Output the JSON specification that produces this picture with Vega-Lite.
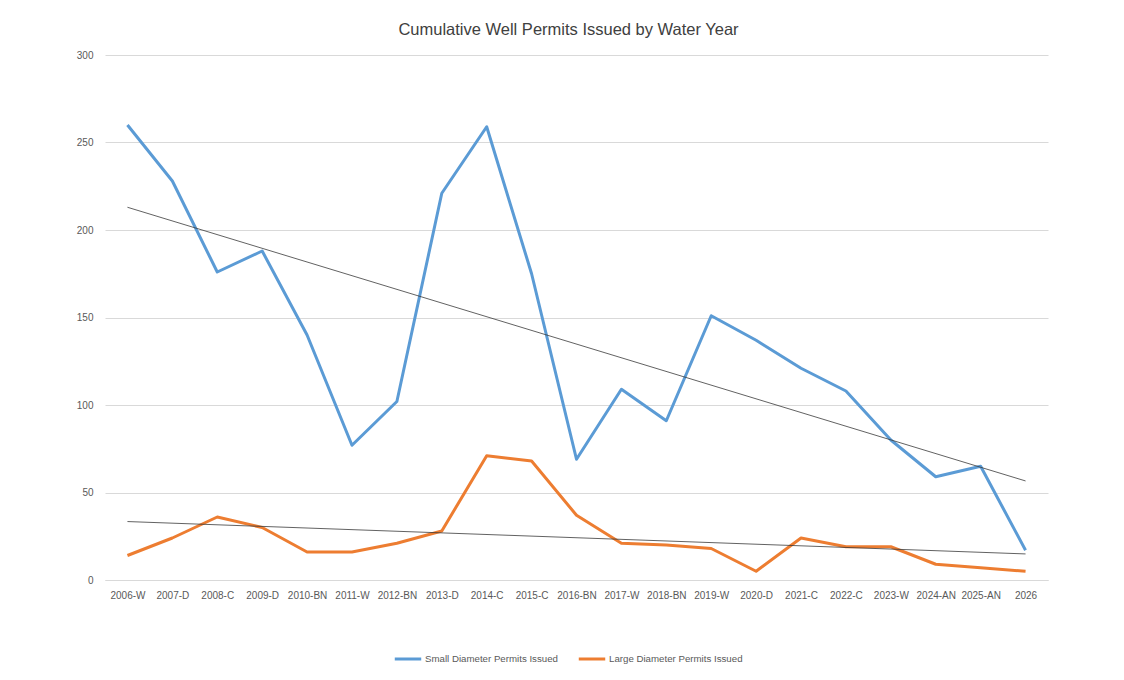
{
  "$schema": "https://vega.github.io/schema/vega-lite/v6.json",
  "width": 943,
  "height": 525,
  "autosize": "none",
  "padding": {"left": 105, "top": 55, "right": 76, "bottom": 100},
  "background": "white",
  "title": {
    "text": "Cumulative Well Permits Issued by Water Year",
    "anchor": "middle",
    "dx": -8,
    "offset": 12,
    "font": "Liberation Sans",
    "fontSize": 16.5,
    "fontWeight": "normal",
    "color": "#404040"
  },
  "config": {
    "font": "Liberation Sans",
    "view": {"stroke": null},
    "axis": {"labelFont": "Liberation Sans", "labelColor": "#595959", "labelFontSize": 10}
  },
  "datasets": {
    "permits": [
      {"year": "2006-W", "series": "Small Diameter Permits Issued", "permits": 260},
      {"year": "2007-D", "series": "Small Diameter Permits Issued", "permits": 228},
      {"year": "2008-C", "series": "Small Diameter Permits Issued", "permits": 176},
      {"year": "2009-D", "series": "Small Diameter Permits Issued", "permits": 188},
      {"year": "2010-BN", "series": "Small Diameter Permits Issued", "permits": 140},
      {"year": "2011-W", "series": "Small Diameter Permits Issued", "permits": 77},
      {"year": "2012-BN", "series": "Small Diameter Permits Issued", "permits": 102},
      {"year": "2013-D", "series": "Small Diameter Permits Issued", "permits": 221},
      {"year": "2014-C", "series": "Small Diameter Permits Issued", "permits": 259},
      {"year": "2015-C", "series": "Small Diameter Permits Issued", "permits": 175},
      {"year": "2016-BN", "series": "Small Diameter Permits Issued", "permits": 69},
      {"year": "2017-W", "series": "Small Diameter Permits Issued", "permits": 109},
      {"year": "2018-BN", "series": "Small Diameter Permits Issued", "permits": 91},
      {"year": "2019-W", "series": "Small Diameter Permits Issued", "permits": 151},
      {"year": "2020-D", "series": "Small Diameter Permits Issued", "permits": 137},
      {"year": "2021-C", "series": "Small Diameter Permits Issued", "permits": 121},
      {"year": "2022-C", "series": "Small Diameter Permits Issued", "permits": 108},
      {"year": "2023-W", "series": "Small Diameter Permits Issued", "permits": 80},
      {"year": "2024-AN", "series": "Small Diameter Permits Issued", "permits": 59},
      {"year": "2025-AN", "series": "Small Diameter Permits Issued", "permits": 65},
      {"year": "2026", "series": "Small Diameter Permits Issued", "permits": 17},
      {"year": "2006-W", "series": "Large Diameter Permits Issued", "permits": 14},
      {"year": "2007-D", "series": "Large Diameter Permits Issued", "permits": 24},
      {"year": "2008-C", "series": "Large Diameter Permits Issued", "permits": 36},
      {"year": "2009-D", "series": "Large Diameter Permits Issued", "permits": 30},
      {"year": "2010-BN", "series": "Large Diameter Permits Issued", "permits": 16},
      {"year": "2011-W", "series": "Large Diameter Permits Issued", "permits": 16},
      {"year": "2012-BN", "series": "Large Diameter Permits Issued", "permits": 21},
      {"year": "2013-D", "series": "Large Diameter Permits Issued", "permits": 28},
      {"year": "2014-C", "series": "Large Diameter Permits Issued", "permits": 71},
      {"year": "2015-C", "series": "Large Diameter Permits Issued", "permits": 68},
      {"year": "2016-BN", "series": "Large Diameter Permits Issued", "permits": 37},
      {"year": "2017-W", "series": "Large Diameter Permits Issued", "permits": 21},
      {"year": "2018-BN", "series": "Large Diameter Permits Issued", "permits": 20},
      {"year": "2019-W", "series": "Large Diameter Permits Issued", "permits": 18},
      {"year": "2020-D", "series": "Large Diameter Permits Issued", "permits": 5},
      {"year": "2021-C", "series": "Large Diameter Permits Issued", "permits": 24},
      {"year": "2022-C", "series": "Large Diameter Permits Issued", "permits": 19},
      {"year": "2023-W", "series": "Large Diameter Permits Issued", "permits": 19},
      {"year": "2024-AN", "series": "Large Diameter Permits Issued", "permits": 9},
      {"year": "2025-AN", "series": "Large Diameter Permits Issued", "permits": 7},
      {"year": "2026", "series": "Large Diameter Permits Issued", "permits": 5}
    ],
    "trend": [
      {"year": "2006-W", "series": "Small trend", "permits": 213},
      {"year": "2026", "series": "Small trend", "permits": 56.6},
      {"year": "2006-W", "series": "Large trend", "permits": 33.4},
      {"year": "2026", "series": "Large trend", "permits": 14.9}
    ]
  },
  "layer": [
    {
      "data": {"name": "permits"},
      "mark": {"type": "line", "strokeWidth": 3, "strokeJoin": "round"},
      "encoding": {
        "x": {
          "field": "year",
          "type": "ordinal",
          "scale": {
            "type": "point",
            "padding": 0.5,
            "domain": ["2006-W","2007-D","2008-C","2009-D","2010-BN","2011-W","2012-BN","2013-D","2014-C","2015-C","2016-BN","2017-W","2018-BN","2019-W","2020-D","2021-C","2022-C","2023-W","2024-AN","2025-AN","2026"]
          },
          "axis": {
            "title": null,
            "labelAngle": 0,
            "ticks": false,
            "labelPadding": 10,
            "labelOverlap": false,
            "domainColor": "#D9D9D9",
            "domainWidth": 1,
            "grid": false
          }
        },
        "y": {
          "field": "permits",
          "type": "quantitative",
          "scale": {"domain": [0, 300], "nice": false},
          "axis": {
            "title": null,
            "values": [0, 50, 100, 150, 200, 250, 300],
            "ticks": false,
            "domain": false,
            "labelPadding": 12,
            "gridColor": "#D9D9D9",
            "gridWidth": 1
          }
        },
        "color": {
          "field": "series",
          "type": "nominal",
          "scale": {
            "domain": ["Small Diameter Permits Issued", "Large Diameter Permits Issued"],
            "range": ["#5B9BD5", "#ED7D31"]
          },
          "legend": {
            "title": null,
            "orient": "none",
            "direction": "horizontal",
            "legendX": 288,
            "legendY": 589,
            "symbolType": "stroke",
            "symbolStrokeWidth": 3,
            "symbolSize": 700,
            "labelFontSize": 9.7,
            "labelColor": "#595959",
            "labelOffset": 2,
            "columnPadding": 14
          }
        }
      }
    },
    {
      "data": {"name": "trend"},
      "mark": {"type": "line", "strokeWidth": 0.8, "color": "#3a3a3a"},
      "encoding": {
        "x": {"field": "year", "type": "ordinal"},
        "y": {"field": "permits", "type": "quantitative"},
        "detail": {"field": "series", "type": "nominal"}
      }
    }
  ]
}
